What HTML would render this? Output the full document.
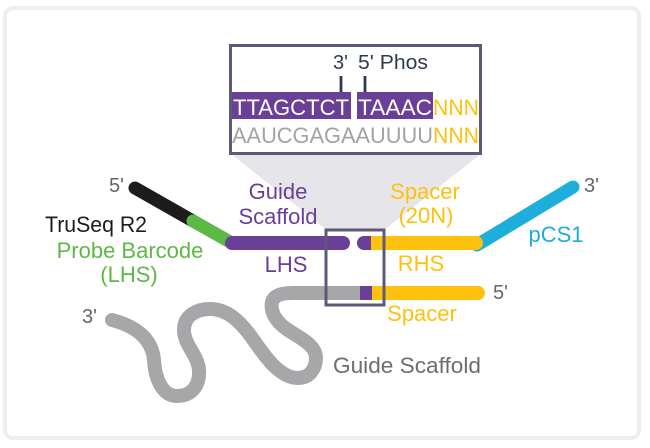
<!DOCTYPE html>
<html>
<head>
<meta charset="utf-8">
<style>
html,body{margin:0;padding:0;background:#fff;}
svg{display:block;}
text{font-family:"Liberation Sans",sans-serif;}
</style>
</head>
<body>
<svg width="650" height="448" viewBox="0 0 650 448" xmlns="http://www.w3.org/2000/svg">
  <rect x="0" y="0" width="650" height="448" fill="#fff"/>
  <!-- outer frame -->
  <rect x="5" y="8" width="634" height="430" rx="8" ry="8" fill="#fff" stroke="#eeeeee" stroke-width="4"/>

  <!-- zoom trapezoid -->
  <polygon points="231,154 481,154 384,230 327,230" fill="#e6e6ea"/>

  <!-- inset box -->
  <rect x="230.5" y="45.5" width="250" height="108" fill="#fff" stroke="#5c5b77" stroke-width="3"/>
  <text x="333" y="69" font-size="20" fill="#2e3a4e">3'</text>
  <text x="358" y="69" font-size="20" fill="#2e3a4e" textLength="70" lengthAdjust="spacingAndGlyphs">5' Phos</text>
  <line x1="341" y1="76" x2="341" y2="95" stroke="#2e3a4e" stroke-width="2.8"/>
  <line x1="365" y1="76" x2="365" y2="93" stroke="#2e3a4e" stroke-width="2.8"/>
  <rect x="232" y="92" width="119" height="27" fill="#6a3f98"/>
  <rect x="357" y="92" width="76" height="27" fill="#6a3f98"/>
  <text x="233" y="115" font-size="22" fill="#fff" textLength="116" lengthAdjust="spacingAndGlyphs">TTAGCTCT</text>
  <text x="358" y="115" font-size="22" fill="#fff" textLength="74" lengthAdjust="spacingAndGlyphs">TAAAC</text>
  <text x="433" y="115" font-size="22" fill="#fdc10e" textLength="46" lengthAdjust="spacingAndGlyphs">NNN</text>
  <text x="232" y="143" font-size="22" fill="#a3a3a3" textLength="201" lengthAdjust="spacingAndGlyphs">AAUCGAGAAUUUU</text>
  <text x="433" y="143" font-size="22" fill="#fdc10e" textLength="46" lengthAdjust="spacingAndGlyphs">NNN</text>

  <!-- gray squiggle strand -->
  <path d="M112,320 C135,326 152,338 154,360 C155,378 162,396 177,396 C192,396 200,385 199,370 C198,355 184,345 184,330 C184,316 196,309 210,309 C228,309 240,322 250,335 C262,352 278,378 298,378 C310,378 316,368 316,358 C316,345 300,338 288,330 C276,322 270,312 272,302 C274,295 282,293 292,293 L362,293"
        fill="none" stroke="#a7a7aa" stroke-width="14" stroke-linecap="round" stroke-linejoin="round"/>
  <!-- lower strand yellow / purple -->
  <line x1="372" y1="293" x2="478" y2="293" stroke="#fdc10e" stroke-width="14" stroke-linecap="round"/>
  <rect x="372" y="286" width="10" height="14" fill="#fdc10e"/>
  <rect x="360" y="286" width="12" height="14" fill="#6a3f98"/>

  <!-- upper probe -->
  <line x1="135" y1="188" x2="193" y2="221" stroke="#1c1c1c" stroke-width="13" stroke-linecap="round"/>
  <line x1="193" y1="221" x2="232" y2="243" stroke="#5cb946" stroke-width="13" stroke-linecap="round"/>
  <line x1="193" y1="221" x2="200" y2="225" stroke="#5cb946" stroke-width="13"/>
  <line x1="232" y1="243" x2="343" y2="243" stroke="#6a3f98" stroke-width="14" stroke-linecap="round"/>
  <line x1="232" y1="243" x2="240" y2="243" stroke="#6a3f98" stroke-width="14"/>

  <line x1="477" y1="245" x2="573" y2="187" stroke="#1eaedb" stroke-width="13" stroke-linecap="round"/>
  <line x1="364" y1="243" x2="372" y2="243" stroke="#6a3f98" stroke-width="14" stroke-linecap="round"/>
  <rect x="371" y="236" width="8" height="14" fill="#fdc10e"/>
  <line x1="378" y1="243" x2="476" y2="243" stroke="#fdc10e" stroke-width="14" stroke-linecap="round"/>

  <!-- small box -->
  <rect x="326" y="230" width="58" height="75" fill="none" stroke="#5c5b77" stroke-width="3"/>

  <!-- labels -->
  <text x="109" y="192" font-size="20" fill="#666">5'</text>
  <text x="45" y="232" font-size="22" fill="#1c1c1c" textLength="102" lengthAdjust="spacingAndGlyphs">TruSeq R2</text>
  <text x="130" y="258" font-size="22" fill="#5cb946" text-anchor="middle">Probe Barcode</text>
  <text x="129" y="282" font-size="22" fill="#5cb946" text-anchor="middle">(LHS)</text>

  <text x="278" y="199" font-size="22" fill="#6a3f98" text-anchor="middle">Guide</text>
  <text x="278" y="224" font-size="22" fill="#6a3f98" text-anchor="middle">Scaffold</text>
  <text x="286" y="272" font-size="22" fill="#6a3f98" text-anchor="middle">LHS</text>

  <text x="425" y="199" font-size="22" fill="#fdc10e" text-anchor="middle">Spacer</text>
  <text x="426" y="223" font-size="22" fill="#fdc10e" text-anchor="middle">(20N)</text>
  <text x="421" y="271" font-size="22" fill="#fdc10e" text-anchor="middle">RHS</text>
  <text x="422" y="321" font-size="22" fill="#fdc10e" text-anchor="middle">Spacer</text>

  <text x="556" y="242" font-size="22" fill="#1eaedb" text-anchor="middle">pCS1</text>
  <text x="584" y="192" font-size="20" fill="#666">3'</text>
  <text x="493" y="299" font-size="20" fill="#666">5'</text>
  <text x="82" y="323" font-size="20" fill="#666">3'</text>
  <text x="333" y="373" font-size="22" fill="#6d6d6d" textLength="148" lengthAdjust="spacingAndGlyphs">Guide Scaffold</text>
</svg>
</body>
</html>
